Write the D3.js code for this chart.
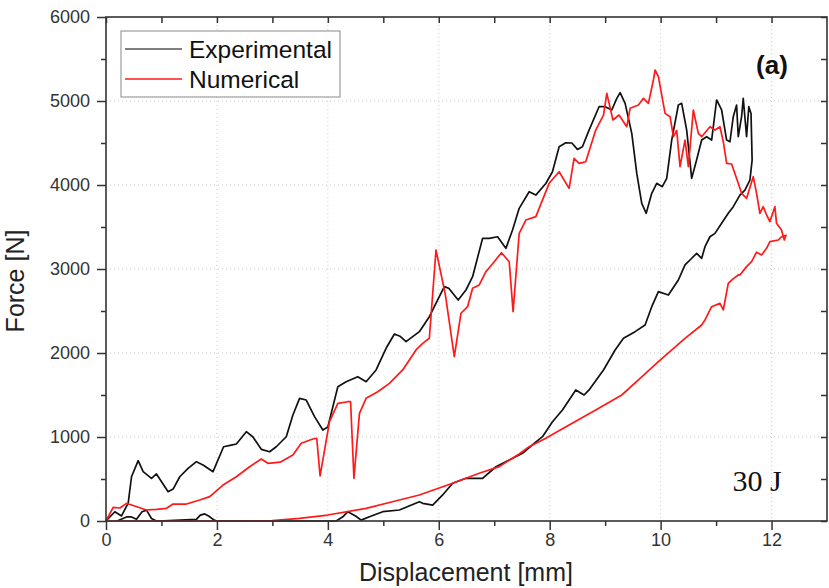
<!DOCTYPE html>
<html>
<head>
<meta charset="utf-8">
<script src="https://cdn.jsdelivr.net/npm/d3@7"></script>
<style>
  body { margin: 0; background: #fff; }
  svg { display: block; font-family: "Liberation Sans", Arial, sans-serif; }
</style>
</head>
<body>
<svg id="chart" width="829" height="588"></svg>
<script>
// displacement [mm] / force [N]
const expDisp = [0,0.16,0.28,0.40,0.46,0.58,0.67,0.82,0.91,1.12,1.21,1.33,1.48,1.63,1.75,1.93,2.12,2.26,2.35,2.53,2.65,2.80,2.95,3.07,3.25,3.37,3.49,3.61,3.76,3.91,4.0,4.18,4.33,4.54,4.69,4.87,5.05,5.20,5.30,5.41,5.65,5.83,6.10,6.18,6.35,6.49,6.61,6.79,6.91,7.06,7.21,7.33,7.45,7.63,7.75,7.93,8.05,8.17,8.29,8.40,8.50,8.59,8.71,8.89,9.0,9.12,9.21,9.27,9.36,9.48,9.57,9.66,9.74,9.84,9.93,10.03,10.11,10.20,10.32,10.38,10.47,10.56,10.65,10.74,10.83,10.92,11.01,11.10,11.19,11.25,11.31,11.37,11.40,11.46,11.49,11.55,11.59,11.63,11.65,
  11.61,11.52,11.43,11.31,11.22,11.10,10.98,10.89,10.80,10.74,10.65,10.53,10.44,10.32,10.14,9.96,9.84,9.72,9.54,9.33,9.18,8.97,8.71,8.62,8.47,8.23,8.05,7.87,7.72,7.51,7.27,7.03,6.79,6.49,6.25,6.07,5.89,5.71,5.65,5.29,4.99,4.75,4.60,4.50,4.36,4.27,4.15,2.0,1.95,1.85,1.78,1.70,1.63,0.95,0.91,0.82,0.73,0.65,0.55,0.45,0.38,0.2];
const expForce = [0,110,60,214,527,718,587,508,560,349,380,527,627,706,667,587,884,904,917,1063,1000,853,825,884,1003,1262,1460,1440,1242,1083,1120,1599,1658,1718,1658,1798,2056,2226,2200,2135,2254,2432,2790,2770,2631,2750,2908,3365,3365,3384,3246,3464,3722,3920,3880,4018,4158,4456,4503,4500,4424,4456,4654,4932,4932,4893,5032,5099,4972,4615,4138,3782,3663,3901,4020,3980,4079,4535,4952,4972,4654,4079,4300,4535,4575,4535,5012,4893,4535,4515,4813,4952,4575,4813,5032,4575,4932,4852,4297,
  4059,3940,3880,3742,3663,3544,3424,3384,3266,3127,3186,3107,3048,2869,2690,2730,2551,2333,2254,2175,2036,1798,1560,1500,1560,1322,1182,1004,925,806,726,646,508,508,449,310,190,210,230,131,111,51,10,60,111,50,0,0,10,60,84,70,20,0,0,30,130,111,20,50,50,0,0];

const numDisp = [0,0.13,0.25,0.37,0.49,0.73,0.91,1.09,1.21,1.45,1.69,1.87,2.11,2.35,2.59,2.80,2.92,3.14,3.37,3.52,3.73,3.80,3.86,4.03,4.18,4.36,4.41,4.47,4.57,4.69,4.90,5.11,5.35,5.59,5.71,5.83,5.95,6.12,6.28,6.40,6.52,6.61,6.73,6.85,7.0,7.13,7.27,7.34,7.45,7.57,7.75,7.99,8.17,8.35,8.44,8.53,8.65,8.83,8.97,9.03,9.14,9.25,9.39,9.45,9.60,9.69,9.78,9.87,9.90,9.96,10.08,10.17,10.23,10.29,10.35,10.44,10.50,10.59,10.68,10.74,10.89,10.98,11.07,11.13,11.19,11.28,11.40,11.46,11.55,11.67,11.73,11.79,11.85,11.91,11.97,12.06,12.09,12.18,12.23,12.26,
  12.18,12.12,11.97,11.91,11.82,11.73,11.64,11.55,11.43,11.40,11.30,11.22,11.13,11.07,10.92,10.80,10.74,10.44,9.96,9.60,9.30,8.83,8.35,7.93,7.63,7.45,7.09,6.73,6.25,5.65,5.20,4.69,4.0,3.49,3.0,2.65,0];
const numForce = [0,163,155,210,185,131,139,151,202,202,250,290,428,527,646,738,687,700,785,925,976,985,536,1182,1401,1420,1420,508,1282,1460,1539,1639,1798,2036,2115,2175,3226,2690,1956,2473,2551,2770,2810,2968,3087,3194,3087,2492,3425,3583,3623,4020,4158,3960,4317,4257,4277,4654,4833,5091,4774,4833,4694,4913,4952,5032,4972,5250,5369,5290,4853,4813,4575,4650,4218,4535,4218,4893,4615,4575,4694,4654,4694,4515,4257,4250,4020,3901,3841,4099,3901,3663,3742,3643,3564,3742,3544,3464,3345,3400,
  3384,3345,3325,3246,3167,3200,3087,3028,2929,2929,2880,2829,2512,2591,2551,2393,2333,2175,1897,1679,1500,1322,1143,985,885,798,647,568,449,310,235,151,71,32,5,0,0];

const xTicks = [0,2,4,6,8,10,12];
const yTicks = [0,1000,2000,3000,4000,5000,6000];

const margin = {top: 17, right: 2, bottom: 67, left: 106};
const W = 829, H = 588;
const iw = W - margin.left - margin.right, ih = H - margin.top - margin.bottom;

const svg = d3.select("#chart");
const x = d3.scaleLinear().domain([0, 13]).range([0, iw]);
const y = d3.scaleLinear().domain([0, 6000]).range([ih, 0]);

const g = svg.append("g").attr("transform", `translate(${margin.left},${margin.top})`);

// dotted grid
g.append("g").selectAll("line").data(xTicks.filter(d => d > 0)).join("line")
  .attr("x1", d => x(d)).attr("x2", d => x(d)).attr("y1", 0).attr("y2", ih)
  .attr("stroke", "#ccc").attr("stroke-dasharray", "1,3");
g.append("g").selectAll("line").data(yTicks.filter(d => d > 0 && d < 6000)).join("line")
  .attr("y1", d => y(d)).attr("y2", d => y(d)).attr("x1", 0).attr("x2", iw)
  .attr("stroke", "#ccc").attr("stroke-dasharray", "1,3");

const line = d3.line().x(d => x(d[0])).y(d => y(d[1]));
const expPts = expDisp.map((d, i) => [d, expForce[i]]);
const numPts = numDisp.map((d, i) => [d, numForce[i]]);

g.append("path").datum(expPts).attr("d", line)
  .attr("fill", "none").attr("stroke", "#111").attr("stroke-width", 1.7).attr("stroke-linejoin", "round");
g.append("path").datum(numPts).attr("d", line)
  .attr("fill", "none").attr("stroke", "#ff1a1a").attr("stroke-width", 1.7).attr("stroke-linejoin", "round");

// axes: bottom/left outward, top/right inward
const minorX = d3.range(1, 13, 2);
const minorY = d3.range(500, 6000, 1000);
const axisStyle = sel => {
  sel.select(".domain").remove();
  sel.selectAll("line").attr("stroke", "#333").attr("stroke-width", 1.5);
  sel.selectAll("text").attr("fill", "#333").style("font-size", "18px");
};

g.append("g").attr("transform", `translate(0,${ih})`)
  .call(d3.axisBottom(x).tickValues(xTicks).tickSize(9).tickPadding(3).tickFormat(d3.format("d")))
  .call(axisStyle);
g.append("g").attr("transform", `translate(0,${ih})`)
  .call(d3.axisBottom(x).tickValues(minorX).tickSize(5).tickFormat(""))
  .call(axisStyle);
g.append("g")
  .call(d3.axisLeft(y).tickValues(yTicks).tickSize(9).tickPadding(7).tickFormat(d3.format("d")))
  .call(axisStyle);
g.append("g")
  .call(d3.axisLeft(y).tickValues(minorY).tickSize(5).tickFormat(""))
  .call(axisStyle);
g.append("g")
  .call(d3.axisTop(x).tickValues(xTicks.concat(minorX)).tickSize(-6).tickFormat(""))
  .call(axisStyle);
g.append("g").attr("transform", `translate(${iw},0)`)
  .call(d3.axisRight(y).tickValues(yTicks.concat(minorY)).tickSize(-6).tickFormat(""))
  .call(axisStyle);

g.append("rect").attr("width", iw).attr("height", ih)
  .attr("fill", "none").attr("stroke", "#333").attr("stroke-width", 1.6);

// axis titles
svg.append("text").attr("x", 466).attr("y", 581).attr("text-anchor", "middle")
  .attr("fill", "#222").style("font-size", "25px").text("Displacement [mm]");
svg.append("text").attr("transform", "translate(24,281) rotate(-90)").attr("text-anchor", "middle")
  .attr("fill", "#222").style("font-size", "25px").text("Force [N]");

// legend
const leg = svg.append("g").attr("transform", "translate(121,31)");
leg.append("rect").attr("width", 219).attr("height", 66)
  .attr("fill", "#fff").attr("stroke", "#888").attr("stroke-width", 1);
const legItems = [["Experimental", "#555"], ["Numerical", "#ff1a1a"]];
legItems.forEach((it, i) => {
  leg.append("line").attr("x1", 4).attr("x2", 61).attr("y1", 18 + i * 30).attr("y2", 18 + i * 30)
    .attr("stroke", it[1]).attr("stroke-width", 1.7);
  leg.append("text").attr("x", 68).attr("y", 27 + i * 30).attr("fill", "#111")
    .style("font-size", "24.5px").text(it[0]);
});

svg.append("text").attr("x", 772).attr("y", 74).attr("text-anchor", "middle")
  .attr("fill", "#111").style("font-size", "26px").style("font-weight", "bold").text("(a)");
svg.append("text").attr("x", 757).attr("y", 491).attr("text-anchor", "middle")
  .attr("fill", "#111").style("font-family", "'Liberation Serif', 'Times New Roman', serif")
  .style("font-size", "30px").text("30 J");
</script>
</body>
</html>
